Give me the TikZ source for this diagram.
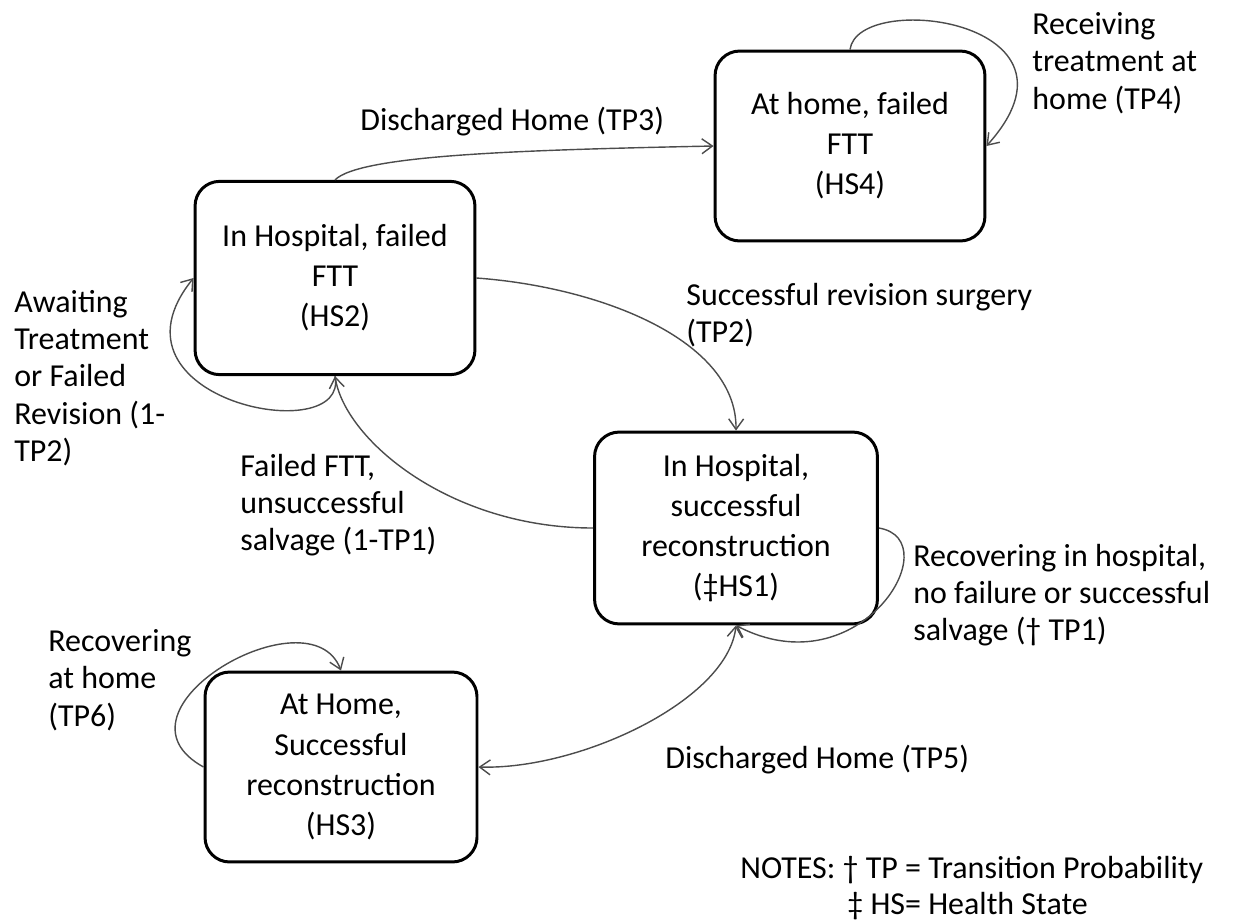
\documentclass[tikz,border=0pt]{standalone}
\usepackage{fontspec}
\setmainfont{Carlito}
\usetikzlibrary{arrows.meta}
\begin{document}
\begin{tikzpicture}[x=0.02cm, y=-0.02cm,
    state/.style={draw, line width=1.7pt, rounded corners=14pt, align=center, inner sep=0pt,
        font=\fontsize{18.2}{22.8}\selectfont},
    lbl/.style={align=left, anchor=west, inner sep=0pt, font=\fontsize{18.2}{21.2}\selectfont},
    link/.style={draw=black!70, line width=0.8pt, -{Straight Barb[length=6pt,width=8.5pt]}}]
    \useasboundingbox (0,0) rectangle (1233,923);
    \node[state, minimum width=153.6pt, minimum height=108.1pt] (hs4) at (850,146) {At home, failed\\FTT\\(HS4)};
    \node[state, minimum width=159.3pt, minimum height=110pt] (hs2) at (335,278) {In Hospital, failed\\FTT\\(HS2)};
    \node[state, minimum width=161pt, minimum height=109.2pt] (hs1) at (736,528) {In Hospital,\\successful\\reconstruction\\(‡HS1)};
    \node[state, minimum width=154.8pt, minimum height=108.1pt] (hs3) at (341,767) {At Home,\\Successful\\reconstruction\\(HS3)};
    \draw[link] (hs2.north) .. controls (360,155) and (520,150) .. (hs4.west);
    \draw[link] (hs4.north) .. controls (858,-10) and (1100,20) .. (hs4.east);
    \draw[link] (hs2.east) .. controls (600,287) and (737,340) .. (hs1.north);
    \draw[link] (hs1.west) .. controls (450,528) and (345,440) .. (hs2.south);
    \draw[link] (hs2.south) .. controls (350,450) and (95,400) .. (hs2.west);
    \draw[link] (hs1.east) .. controls (950,540) and (860,690) .. (hs1.south);
    \draw[link, {Straight Barb[length=6pt,width=8.5pt]}-{Straight Barb[length=6pt,width=8.5pt]}] (hs1.south) .. controls (728,700) and (580,770) .. (hs3.east);
    \draw[link] (hs3.west) .. controls (100,710) and (310,590) .. (hs3.north);
    \node[lbl] (tp3) at (360,122) {Discharged Home (TP3)};
    \node[lbl] (tp4) at (1032,63) {Receiving\\treatment at\\home (TP4)};
    \node[lbl] (tp2) at (686,315) {Successful revision surgery\\(TP2)};
    \node[lbl] (ntp2) at (14,378) {Awaiting\\Treatment\\or Failed\\Revision (1-\\TP2)};
    \node[lbl] (ntp1) at (240,505) {Failed FTT,\\unsuccessful\\salvage (1-TP1)};
    \node[lbl] (tp1) at (913,595) {Recovering in hospital,\\no failure or successful\\salvage († TP1)};
    \node[lbl] (tp6) at (48,680) {Recovering\\at home\\(TP6)};
    \node[lbl] (tp5) at (665,760) {Discharged Home (TP5)};
    \node[lbl] (notes) at (740,870) {NOTES: † TP = Transition Probability};
    \node[lbl] (notes2) at (847,906) {‡ HS= Health State};
\end{tikzpicture}
\end{document}
